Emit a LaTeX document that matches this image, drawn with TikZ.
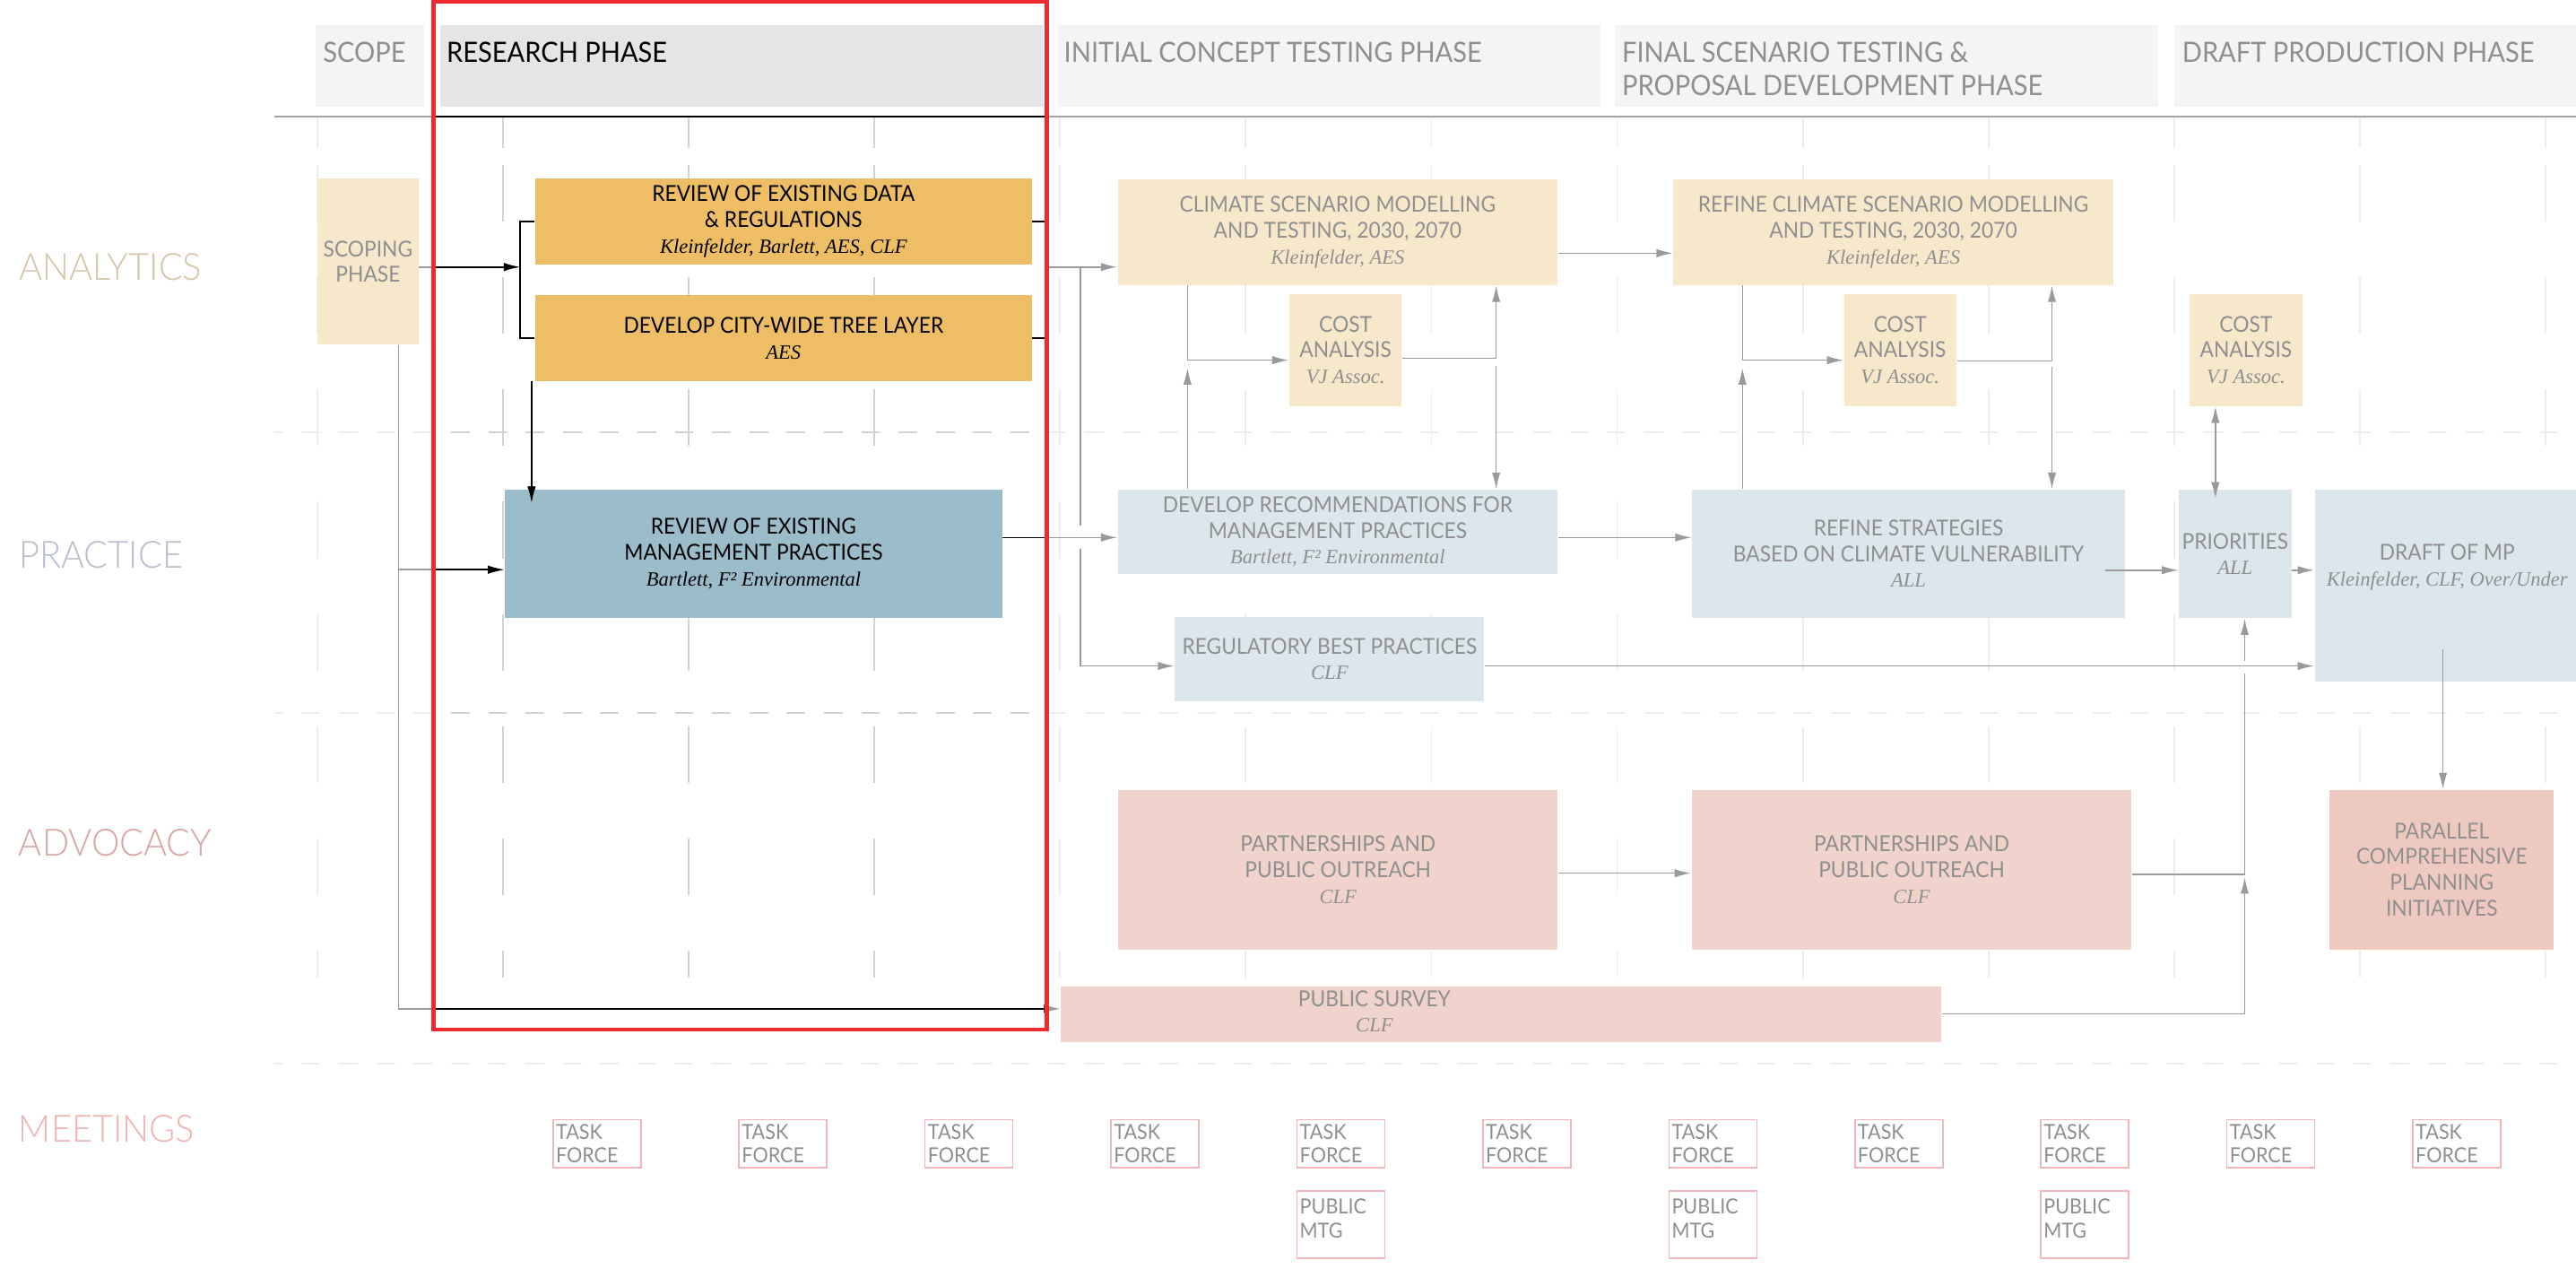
\documentclass[tikz,border=0pt]{standalone}
\usepackage{fontspec}
\setmainfont{Lato}[FakeStretch=0.93]
\newfontfamily\headfont{Lato}[FakeStretch=0.93]
\newfontfamily\thinfont{Lato Light}[FakeStretch=0.95]
\newfontfamily\namefont{Liberation Serif}
\usetikzlibrary{arrows.meta}

\definecolor{headlight}{HTML}{F4F4F4}
\definecolor{headdark}{HTML}{E5E5E5}
\definecolor{tanlight}{HTML}{F7E8CB}
\definecolor{gold}{HTML}{EEBE66}
\definecolor{steel}{HTML}{9BBCCB}
\definecolor{bluelight}{HTML}{DCE6ED}
\definecolor{pinklight}{HTML}{F0D3CA}
\definecolor{pinkmid}{HTML}{EEC9BF}
\definecolor{textgray}{HTML}{8F8F8F}
\definecolor{linkgray}{HTML}{9A9A9A}
\definecolor{headgray}{HTML}{A3A3A3}
\definecolor{gridlight}{HTML}{EDEDED}
\definecolor{griddark}{HTML}{D3D3D3}
\definecolor{anacol}{HTML}{D5C6AA}
\definecolor{praccol}{HTML}{B9BECE}
\definecolor{advcol}{HTML}{D8A5A3}
\definecolor{meetcol}{HTML}{F0B3B3}
\definecolor{meetline}{HTML}{F3B5B5}
\definecolor{redbox}{HTML}{EE2A2E}
\colorlet{linkcol}{linkgray}

% italic line of partner names
\newcommand\who[1]{{\namefont\itshape\fontsize{7}{8.5}\selectfont #1}}

\begin{document}
\begin{tikzpicture}[
  x=0.2mm, y=-0.2mm,
  box/.style={inner sep=0pt, align=center, text=textgray,
    font=\fontsize{7.6}{8.9}\selectfont},
  boxsize/.style 2 args={minimum width=#1*0.2mm, minimum height=#2*0.2mm},
  rowlabel/.style={anchor=base west, inner sep=0pt,
    font=\thinfont\fontsize{13}{15}\selectfont},
  headtext/.style={anchor=base west, inner sep=0pt, text=textgray,
    font=\headfont\fontsize{9.7}{11.5}\selectfont},
  meetbox/.style={draw=meetline, line width=0.5pt, anchor=north west,
    align=left, text width=10mm, inner xsep=0.35mm, inner ysep=0pt,
    minimum height=5.8mm, text=textgray, font=\fontsize{7.2}{8.3}\selectfont},
  link/.style={draw=linkcol, line width=0.5pt},
  arr/.style={link, -{Latex[length=5.7pt,width=2.9pt]}},
  twoway/.style={link, {Latex[length=5.7pt,width=2.9pt]}-{Latex[length=5.7pt,width=2.9pt]}},
  ]
  \useasboundingbox (0,0) rectangle (1568,772);
  \fill[white] (0,0) rectangle (1568,772);

  % grid, darker inside the research phase frame
  \foreach \gc/\hc [count=\pass] in {gridlight/headgray, griddark/black} {
    \begin{scope}
      \ifnum\pass=2 \clip (264.8,2) rectangle (636.3,625.6); \fi
      \foreach \k in {0,...,12} {
        \draw[\gc, line width=0.6pt] (193.3+113*\k,71) -- (193.3+113*\k,90);
        \foreach \j in {0,...,7}
          \draw[\gc, line width=0.6pt] (193.3+113*\k,100.4+68.3*\j) -- (193.3+113*\k,{min(134.9+68.3*\j,595)});
      }
      \foreach \yy in {263.1,433.9,647.1}
        \draw[\gc, line width=0.6pt, dash pattern=on 6.43pt off 6.49pt, dash phase=3.4pt] (167,\yy) -- (1568,\yy);
      \draw[\hc, line width=0.6pt] (167,71) -- (1568,71);
    \end{scope}
  }

  % phase headers
  \fill[headlight] (192,15.4) rectangle (258,64.8);
  \fill[headdark] (268,15.4) rectangle (634.8,64.8);
  \fill[headlight] (644,15.4) rectangle (974,64.8);
  \fill[headlight] (983,15.4) rectangle (1313.6,64.8);
  \fill[headlight] (1323.3,15.4) rectangle (1570,64.8);
  \node[headtext] (tscope) at (196.3,37.7) {SCOPE};
  \node[headtext, text=black] (tresearch) at (271.5,37.7) {RESEARCH PHASE};
  \node[headtext] (tinitial) at (647.3,37.7) {INITIAL CONCEPT TESTING PHASE};
  \node[headtext] (tfinal) at (987,37.7) {FINAL SCENARIO TESTING \&};
  \node[headtext] (tfinalb) at (987,57.9) {PROPOSAL DEVELOPMENT PHASE};
  \node[headtext] (tdraft) at (1328,37.7) {DRAFT PRODUCTION PHASE};

  % rows
  \node[rowlabel, text=anacol] (lanalytics) at (11.3,170.7) {ANALYTICS};
  \node[rowlabel, text=praccol] (lpractice) at (11.3,345.5) {PRACTICE};
  \node[rowlabel, text=advcol] (ladvocacy) at (11.1,521) {ADVOCACY};
  \node[rowlabel, text=meetcol] (lmeetings) at (11.1,695) {MEETINGS};

  % analytics
  \node[box, fill=tanlight, boxsize={61.4}{101}] (scoping) at (224,159.3) {SCOPING\\PHASE};
  \node[box, fill=gold, text=black, boxsize={302.3}{52}] (data) at (476.9,134.8)
    {REVIEW OF EXISTING DATA\\\& REGULATIONS\\\who{Kleinfelder, Barlett, AES, CLF}};
  \node[box, fill=gold, text=black, boxsize={302.3}{52}] (treelayer) at (476.9,205.8)
    {DEVELOP CITY-WIDE TREE LAYER\\\who{AES}};
  \node[box, fill=tanlight, boxsize={267.5}{64.2}] (climate) at (814.2,141.3)
    {CLIMATE SCENARIO MODELLING\\AND TESTING, 2030, 2070\\\who{Kleinfelder, AES}};
  \node[box, fill=tanlight, boxsize={267.5}{64.2}] (refineclimate) at (1152.4,141.3)
    {REFINE CLIMATE SCENARIO MODELLING\\AND TESTING, 2030, 2070\\\who{Kleinfelder, AES}};
  \foreach \n/\x in {1/819,2/1156.6,3/1367.1}
    \node[box, fill=tanlight, boxsize={68.4}{68}] (cost\n) at (\x,213) {COST\\ANALYSIS\\\who{VJ Assoc.}};

  % practice
  \node[box, fill=steel, text=black, boxsize={302.7}{78}] (mgmt) at (458.7,337)
    {REVIEW OF EXISTING\\MANAGEMENT PRACTICES\\\who{Bartlett, F² Environmental}};
  \node[box, fill=bluelight, boxsize={267.5}{51.1}] (recs) at (814.2,323.6)
    {DEVELOP RECOMMENDATIONS FOR\\MANAGEMENT PRACTICES\\\who{Bartlett, F² Environmental}};
  \node[box, fill=bluelight, boxsize={263.4}{78}] (strategies) at (1161.7,337)
    {REFINE STRATEGIES\\BASED ON CLIMATE VULNERABILITY\\\who{ALL}};
  \node[box, fill=bluelight, boxsize={68.4}{78}] (priorities) at (1360.5,337) {PRIORITIES\\\who{ALL}};
  \node[box, fill=bluelight, boxsize={161}{116.6}] (draft) at (1489.5,356.3)
    {DRAFT OF MP\\\who{Kleinfelder, CLF, Over/Under}\\[5pt]\mbox{}};
  \node[box, fill=bluelight, boxsize={188.3}{51.1}] (regulatory) at (809.3,401)
    {REGULATORY BEST PRACTICES\\\who{CLF}};

  % advocacy
  \node[box, fill=pinklight, boxsize={267.6}{97}] (outreach1) at (814.4,529.2)
    {PARTNERSHIPS AND\\PUBLIC OUTREACH\\\who{CLF}};
  \node[box, fill=pinklight, boxsize={267.8}{97}] (outreach2) at (1163.6,529.2)
    {PARTNERSHIPS AND\\PUBLIC OUTREACH\\\who{CLF}};
  \node[box, fill=pinkmid, boxsize={136.5}{97}] (parallel) at (1486.3,529.2)
    {PARALLEL\\COMPREHENSIVE\\PLANNING\\INITIATIVES};
  \node[box, fill=pinklight, boxsize={535.8}{33.8}] (survey) at (913.7,617.1) {};
  \node[box] (surveytext) at (836.6,615.5) {PUBLIC SURVEY\\\who{CLF}};

  % meetings
  \foreach \k in {0,...,10}
    \node[meetbox] (task\k) at (336.2+113.2*\k,681) {TASK\\FORCE};
  \foreach \k in {4,6,8}
    \node[meetbox, minimum height=8.2mm] (public\k) at (336.2+113.2*\k,724.2) {PUBLIC\\MTG\\[-4pt]\mbox{}};

  % connector points
  \coordinate (brL) at (316.6,162.5);
  \coordinate (brR) at (637.3,162.5);
  \coordinate (regsplit) at (657.7,162.5);
  \coordinate (regjumpA) at (657.7,320);
  \coordinate (regjumpB) at (657.7,334);
  \coordinate (regline) at (0,405.3);
  \coordinate (dropA) at (323.6,306);
  \coordinate (sbranch) at (242.6,346.7);
  \coordinate (sdrop) at (242.6,613.9);
  \coordinate (mr) at (0,327.1);
  \coordinate (cc) at (0,154.1);
  \coordinate (k1) at (722.8,219.2);
  \coordinate (k1b) at (722.8,224);
  \coordinate (k2) at (910.7,218.1);
  \coordinate (k2b) at (910.7,222.5);
  \coordinate (m1) at (1060.6,219.2);
  \coordinate (m1b) at (1060.6,224);
  \coordinate (m2) at (1249,219.6);
  \coordinate (m2b) at (1249,223);
  \coordinate (pc) at (1348.5,303.5);
  \coordinate (spA) at (1281.4,347);
  \coordinate (surveyup) at (1366.3,616.9);
  \coordinate (surveytip) at (1366.3,533.8);
  \coordinate (outjoin) at (1366.3,532.1);
  \coordinate (jumpA) at (1366.3,410);
  \coordinate (jumpB) at (1366.3,402);
  \coordinate (dp) at (1487,395);
  \coordinate (o12) at (0,531.4);

  % connectors, black inside the research phase frame
  \foreach \lc [count=\pass] in {linkgray,black} {
    \begin{scope}
      \ifnum\pass=2 \clip (264.8,2) rectangle (636.3,625.6); \fi
      \colorlet{linkcol}{\lc}
      \draw[arr] (scoping.east |- brL) -- (brL);
      \draw[link] (data.west) -| (brL) |- (treelayer.west);
      \draw[link] (data.east) -| (brR) |- (treelayer.east);
      \draw[arr] (brR) -- (climate.west |- brR);
      \draw[link] (regsplit) -- (regjumpA);
      \draw[arr] (regjumpB) |- (regulatory.west |- regline);
      \draw[arr] (treelayer.south west -| dropA) -- (dropA);
      \draw[arr] (scoping.south -| sdrop) -- (sdrop) -- (survey.west |- sdrop);
      \draw[arr] (sbranch) -- (mgmt.west |- sbranch);
      \draw[arr] (mgmt.east |- mr) -- (recs.west |- mr);
      \draw[arr] (climate.east |- cc) -- (refineclimate.west |- cc);
      \draw[arr] (climate.south -| k1) |- (cost1.west |- k1);
      \draw[arr] (cost1.east |- k2) -| (climate.south -| k2);
      \draw[arr] (k2b) -- (recs.north -| k2b);
      \draw[arr] (recs.north -| k1b) -- (k1b);
      \draw[arr] (refineclimate.south -| m1) |- (cost2.west |- m1);
      \draw[arr] (cost2.east |- m2) -| (refineclimate.south -| m2);
      \draw[arr] (m2b) -- (strategies.north -| m2b);
      \draw[arr] (strategies.north -| m1b) -- (m1b);
      \draw[twoway] (cost3.south -| pc) -- (pc);
      \draw[arr] (recs.east |- mr) -- (strategies.west |- mr);
      \draw[arr] (spA) -- (priorities.west |- spA);
      \draw[arr] (priorities.east |- spA) -- (draft.west |- spA);
      \draw[arr] (regulatory.east |- regline) -- (draft.west |- regline);
      \draw[arr] (survey.east |- surveyup) -- (surveyup) -- (surveytip);
      \draw[link] (outreach2.east |- outjoin) -- (outjoin) -- (jumpA);
      \draw[arr] (jumpB) -- (priorities.south -| jumpB);
      \draw[arr] (outreach1.east |- o12) -- (outreach2.west |- o12);
      \draw[arr] (dp) -- (parallel.north -| dp);
    \end{scope}
  }

  % research phase frame
  \draw[redbox, line width=1.45pt] (263.8,0.9) rectangle (637.3,626.6);
\end{tikzpicture}
\end{document}
